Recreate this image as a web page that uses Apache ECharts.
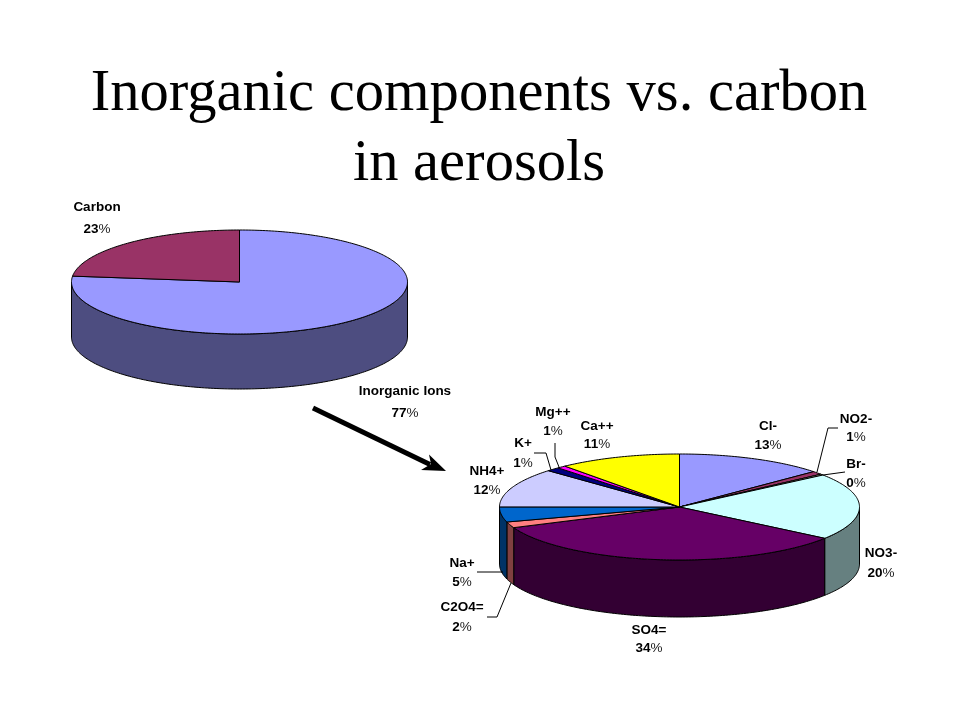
<!DOCTYPE html>
<html><head><meta charset="utf-8">
<style>html,body{margin:0;padding:0;background:#fff}#c{width:960px;height:720px}</style>
<script src="https://cdn.jsdelivr.net/npm/echarts@6/dist/echarts.min.js"></script>
</head><body><div id="c"></div>
<script>
const titleText = 'Inorganic components vs. carbon\nin aerosols';

const overviewNames = ['Inorganic Ions', 'Carbon'];
const overviewValues = [76.8, 23.2];

const ionNames = ['Cl-', 'NO2-', 'Br-', 'NO3-', 'SO4=', 'C2O4=', 'Na+', 'NH4+', 'K+', 'Mg++', 'Ca++'];
const ionValues = [13.4, 1.0, 0.3, 20.4, 33.6, 1.8, 4.6, 12.0, 1.2, 0.8, 11.0];

// Styles and layout, separate from the data
const overviewTop = ['#9999ff', '#993366'];
const overviewSide = ['#4d4d80', '#4d1a33'];
const ionTop = ['#9999ff', '#993366', '#ffffcc', '#ccffff', '#660066', '#ff8080', '#0066cc', '#ccccff', '#000080', '#ff00ff', '#ffff00'];
const ionSide = ['#4d4d80', '#4d1a33', '#808066', '#668080', '#330033', '#804040', '#003366', '#666680', '#000040', '#800080', '#808000'];

const overviewPie = {cx: 239.5, cy: 282, rx: 168, ry: 52, depth: 55};
const ionPie = {cx: 679.5, cy: 507, rx: 180, ry: 53, depth: 57};

// [label centre x, first line y, second line y]
const overviewLabelPos = [[405, 391, 413], [97, 207, 229]];
const ionLabelPos = [
  [768, 426, 445], [856, 419, 437], [856, 464, 483], [881, 553, 573],
  [649, 630, 648], [462, 607, 627], [462, 563, 582], [487, 471, 490],
  [523, 443, 463], [553, 412, 431], [597, 426, 444]
];
const ionLeaders = {
  1: [[817, 472], [828, 428], [838, 428]],
  2: [[823, 475], [845, 472]],
  5: [[511, 583], [497, 617], [487, 617]],
  6: [[503, 572], [477, 572]],
  8: [[551, 470], [546, 453], [534, 453]],
  9: [[559, 467], [555, 457], [555, 443]]
};

function pieSeries(names, values, top, side, geo, labelPos, leaders) {
  const total = values.reduce((a, b) => a + b, 0);
  let run = 0;
  const rows = values.map(v => { const r = [v, run, total]; run += v; return r; });
  const pt = (deg, dy) => {
    const t = deg * Math.PI / 180;
    return [geo.cx + geo.rx * Math.sin(t), geo.cy - geo.ry * Math.cos(t) + (dy || 0)];
  };
  const arc = (a, b, dy) => {
    const out = [];
    const n = Math.max(2, Math.ceil((b - a) / 1));
    for (let i = 0; i <= n; i++) out.push(pt(a + (b - a) * i / n, dy));
    return out;
  };
  const range = api => {
    const tot = api.value(2);
    return [api.value(1) / tot * 360, (api.value(1) + api.value(0)) / tot * 360];
  };
  const base = {type: 'custom', coordinateSystem: 'none', silent: true, animation: false, data: rows, clip: false};
  return [
    Object.assign({}, base, {
      name: 'walls', z: 2,
      renderItem(p, api) {
        const [a, b] = range(api);
        const s = Math.max(a, 90), e = Math.min(b, 270);
        if (e <= s) return {type: 'group', children: []};
        const pts = arc(s, e, 0).concat(arc(s, e, geo.depth).reverse());
        return {type: 'polygon', shape: {points: pts},
          style: {fill: side[p.dataIndex], stroke: '#000', lineWidth: 1, lineJoin: 'round'}};
      }
    }),
    Object.assign({}, base, {
      name: 'tops', z: 3,
      renderItem(p, api) {
        const [a, b] = range(api);
        const pts = [[geo.cx, geo.cy]].concat(arc(a, b, 0));
        return {type: 'polygon', shape: {points: pts},
          style: {fill: top[p.dataIndex], stroke: '#000', lineWidth: 1, lineJoin: 'round'}};
      }
    }),
    Object.assign({}, base, {
      name: 'labels', z: 4,
      renderItem(p, api) {
        const i = p.dataIndex;
        const [x, y1, y2] = labelPos[i];
        const family = '"Liberation Sans", Arial, sans-serif';
        const kids = [
          {type: 'text', style: {x, y: y1, text: names[i], textAlign: 'center', textVerticalAlign: 'middle', font: 'bold 13.5px ' + family, fill: '#000'}},
          {type: 'text', style: {x, y: y2, text: '{b|' + Math.round(api.value(0)) + '}{n|%}', textAlign: 'center', textVerticalAlign: 'middle',
            rich: {b: {fontFamily: 'Liberation Sans', fontWeight: 'bold', fontSize: 13.5, fill: '#000'},
                   n: {fontFamily: 'Liberation Sans', fontWeight: 'normal', fontSize: 13.5, fill: '#222'}}}}
        ];
        if (leaders[i]) kids.push({type: 'polyline', shape: {points: leaders[i]}, style: {stroke: '#000', lineWidth: 1, fill: null}});
        return {type: 'group', children: kids};
      }
    })
  ];
}

const chart = echarts.init(document.getElementById('c'), null, {renderer: 'canvas'});
chart.setOption({
  backgroundColor: '#ffffff',
  animation: false,
  title: {
    text: titleText, left: 479, textAlign: 'center', top: 60, padding: 0,
    textStyle: {fontFamily: '"Liberation Serif", "Times New Roman", serif', fontSize: 58.6, fontWeight: 'normal', color: '#000', lineHeight: 70}
  },
  series: [
    ...pieSeries(overviewNames, overviewValues, overviewTop, overviewSide, overviewPie, overviewLabelPos, {}),
    ...pieSeries(ionNames, ionValues, ionTop, ionSide, ionPie, ionLabelPos, ionLeaders)
  ],
  graphic: [
    {type: 'line', silent: true, z: 10, shape: {x1: 313, y1: 408, x2: 430, y2: 464.5}, style: {stroke: '#000', lineWidth: 5}},
    {type: 'polygon', silent: true, z: 10, shape: {points: [[446, 471], [429, 454.5], [431, 464], [421, 470]]}, style: {fill: '#000'}}
  ]
});
</script></body></html>
